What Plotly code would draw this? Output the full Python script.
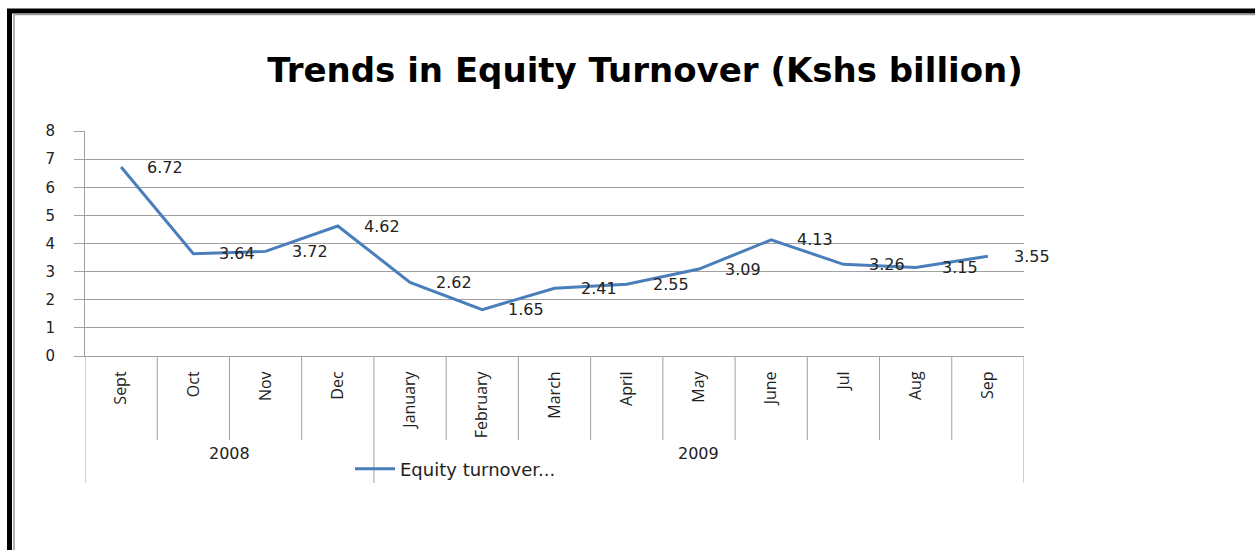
import plotly.graph_objects as go

months = ["Sept", "Oct", "Nov", "Dec", "January", "February", "March",
          "April", "May", "June", "Jul", "Aug", "Sep"]
years = ["2008", "2009"]
year_counts = [4, 9]
turnover = [6.72, 3.64, 3.72, 4.62, 2.62, 1.65, 2.41, 2.55, 3.09, 4.13, 3.26, 3.15, 3.55]
series_name = "Equity turnover..."
title_text = "Trends in Equity Turnover (Kshs billion)"

W, H = 1255, 550
L, R, T, B = 85, 1024, 131, 356
pw, ph = R - L, B - T

def px_x(x):
    return (x - L) / pw

def px_y(y):
    return (B - y) / ph

fig = go.Figure()
fig.add_trace(go.Scatter(
    x=list(range(len(months))), y=turnover, mode="lines", name=series_name,
    line=dict(color="#4A7EBB", width=3), showlegend=True,
))

annotations = []
for i, v in enumerate(turnover):
    annotations.append(dict(x=i, y=v, xref="x", yref="y", text=f"{v:.2f}",
                            showarrow=False, xshift=44, yshift=0,
                            font=dict(family="DejaVu Sans", size=16, color="#222")))

# year group labels
start = 0
shapes = []
boundaries = [0]
for yname, cnt in zip(years, year_counts):
    center = start + cnt / 2 - 0.5
    annotations.append(dict(x=center, y=px_y(465), xref="x", yref="paper",
                            text=yname, showarrow=False,
                            font=dict(family="DejaVu Sans", size=16, color="#222")))
    start += cnt
    boundaries.append(start)

# category boundary lines
for k in range(len(months) + 1):
    y_end = px_y(483) if k in boundaries else px_y(440)
    shapes.append(dict(type="line", xref="x", yref="paper", x0=k - 0.5, x1=k - 0.5,
                       y0=0, y1=y_end, line=dict(color="#A0A0A0", width=1)))

# outer frame (black + grey inner)
shapes += [
    dict(type="line", xref="paper", yref="paper", x0=px_x(9.5), x1=px_x(9.5),
         y0=px_y(9), y1=px_y(560), line=dict(color="black", width=5)),
    dict(type="line", xref="paper", yref="paper", x0=px_x(7), x1=px_x(1270),
         y0=px_y(11), y1=px_y(11), line=dict(color="black", width=5)),
    dict(type="line", xref="paper", yref="paper", x0=px_x(14), x1=px_x(14),
         y0=px_y(14), y1=px_y(560), line=dict(color="#9A9A9A", width=1.5)),
    dict(type="line", xref="paper", yref="paper", x0=px_x(14), x1=px_x(1270),
         y0=px_y(14.5), y1=px_y(14.5), line=dict(color="#9A9A9A", width=1.5)),
]

fig.update_layout(
    width=W, height=H,
    margin=dict(l=L, r=W - R, t=T, b=H - B),
    paper_bgcolor="white", plot_bgcolor="white",
    title=dict(text=f"<b>{title_text}</b>", x=0.514, xref="container", xanchor="center",
               y=1 - 70 / H, yref="container", yanchor="middle",
               font=dict(family="DejaVu Sans", size=34, color="black")),
    xaxis=dict(
        range=[-0.5, len(months) - 0.5], tickmode="array",
        tickvals=list(range(len(months))), ticktext=months,
        tickangle=-90, ticks="", showgrid=False, zeroline=False,
        showline=True, linecolor="#A0A0A0", linewidth=1,
        tickfont=dict(family="Liberation Sans Narrow, Open Sans", size=16, color="#222"),
        ticklabelstandoff=8,
    ),
    yaxis=dict(
        range=[0, 8], dtick=1, showgrid=True, gridcolor="#A0A0A0", gridwidth=1,
        zeroline=False, showline=True, linecolor="#A0A0A0", linewidth=1,
        ticks="outside", ticklen=10, tickcolor="#A0A0A0", tickwidth=1,
        tickfont=dict(family="DejaVu Sans", size=15, color="#222"),
        ticklabelstandoff=16,
    ),
    legend=dict(orientation="h", x=px_x(350), xanchor="left", y=px_y(469),
                yanchor="middle", bgcolor="rgba(0,0,0,0)",
                font=dict(family="DejaVu Sans", size=18, color="#222"),
                itemwidth=40),
    annotations=annotations,
    shapes=shapes,
)

fig.write_html("out.html")
